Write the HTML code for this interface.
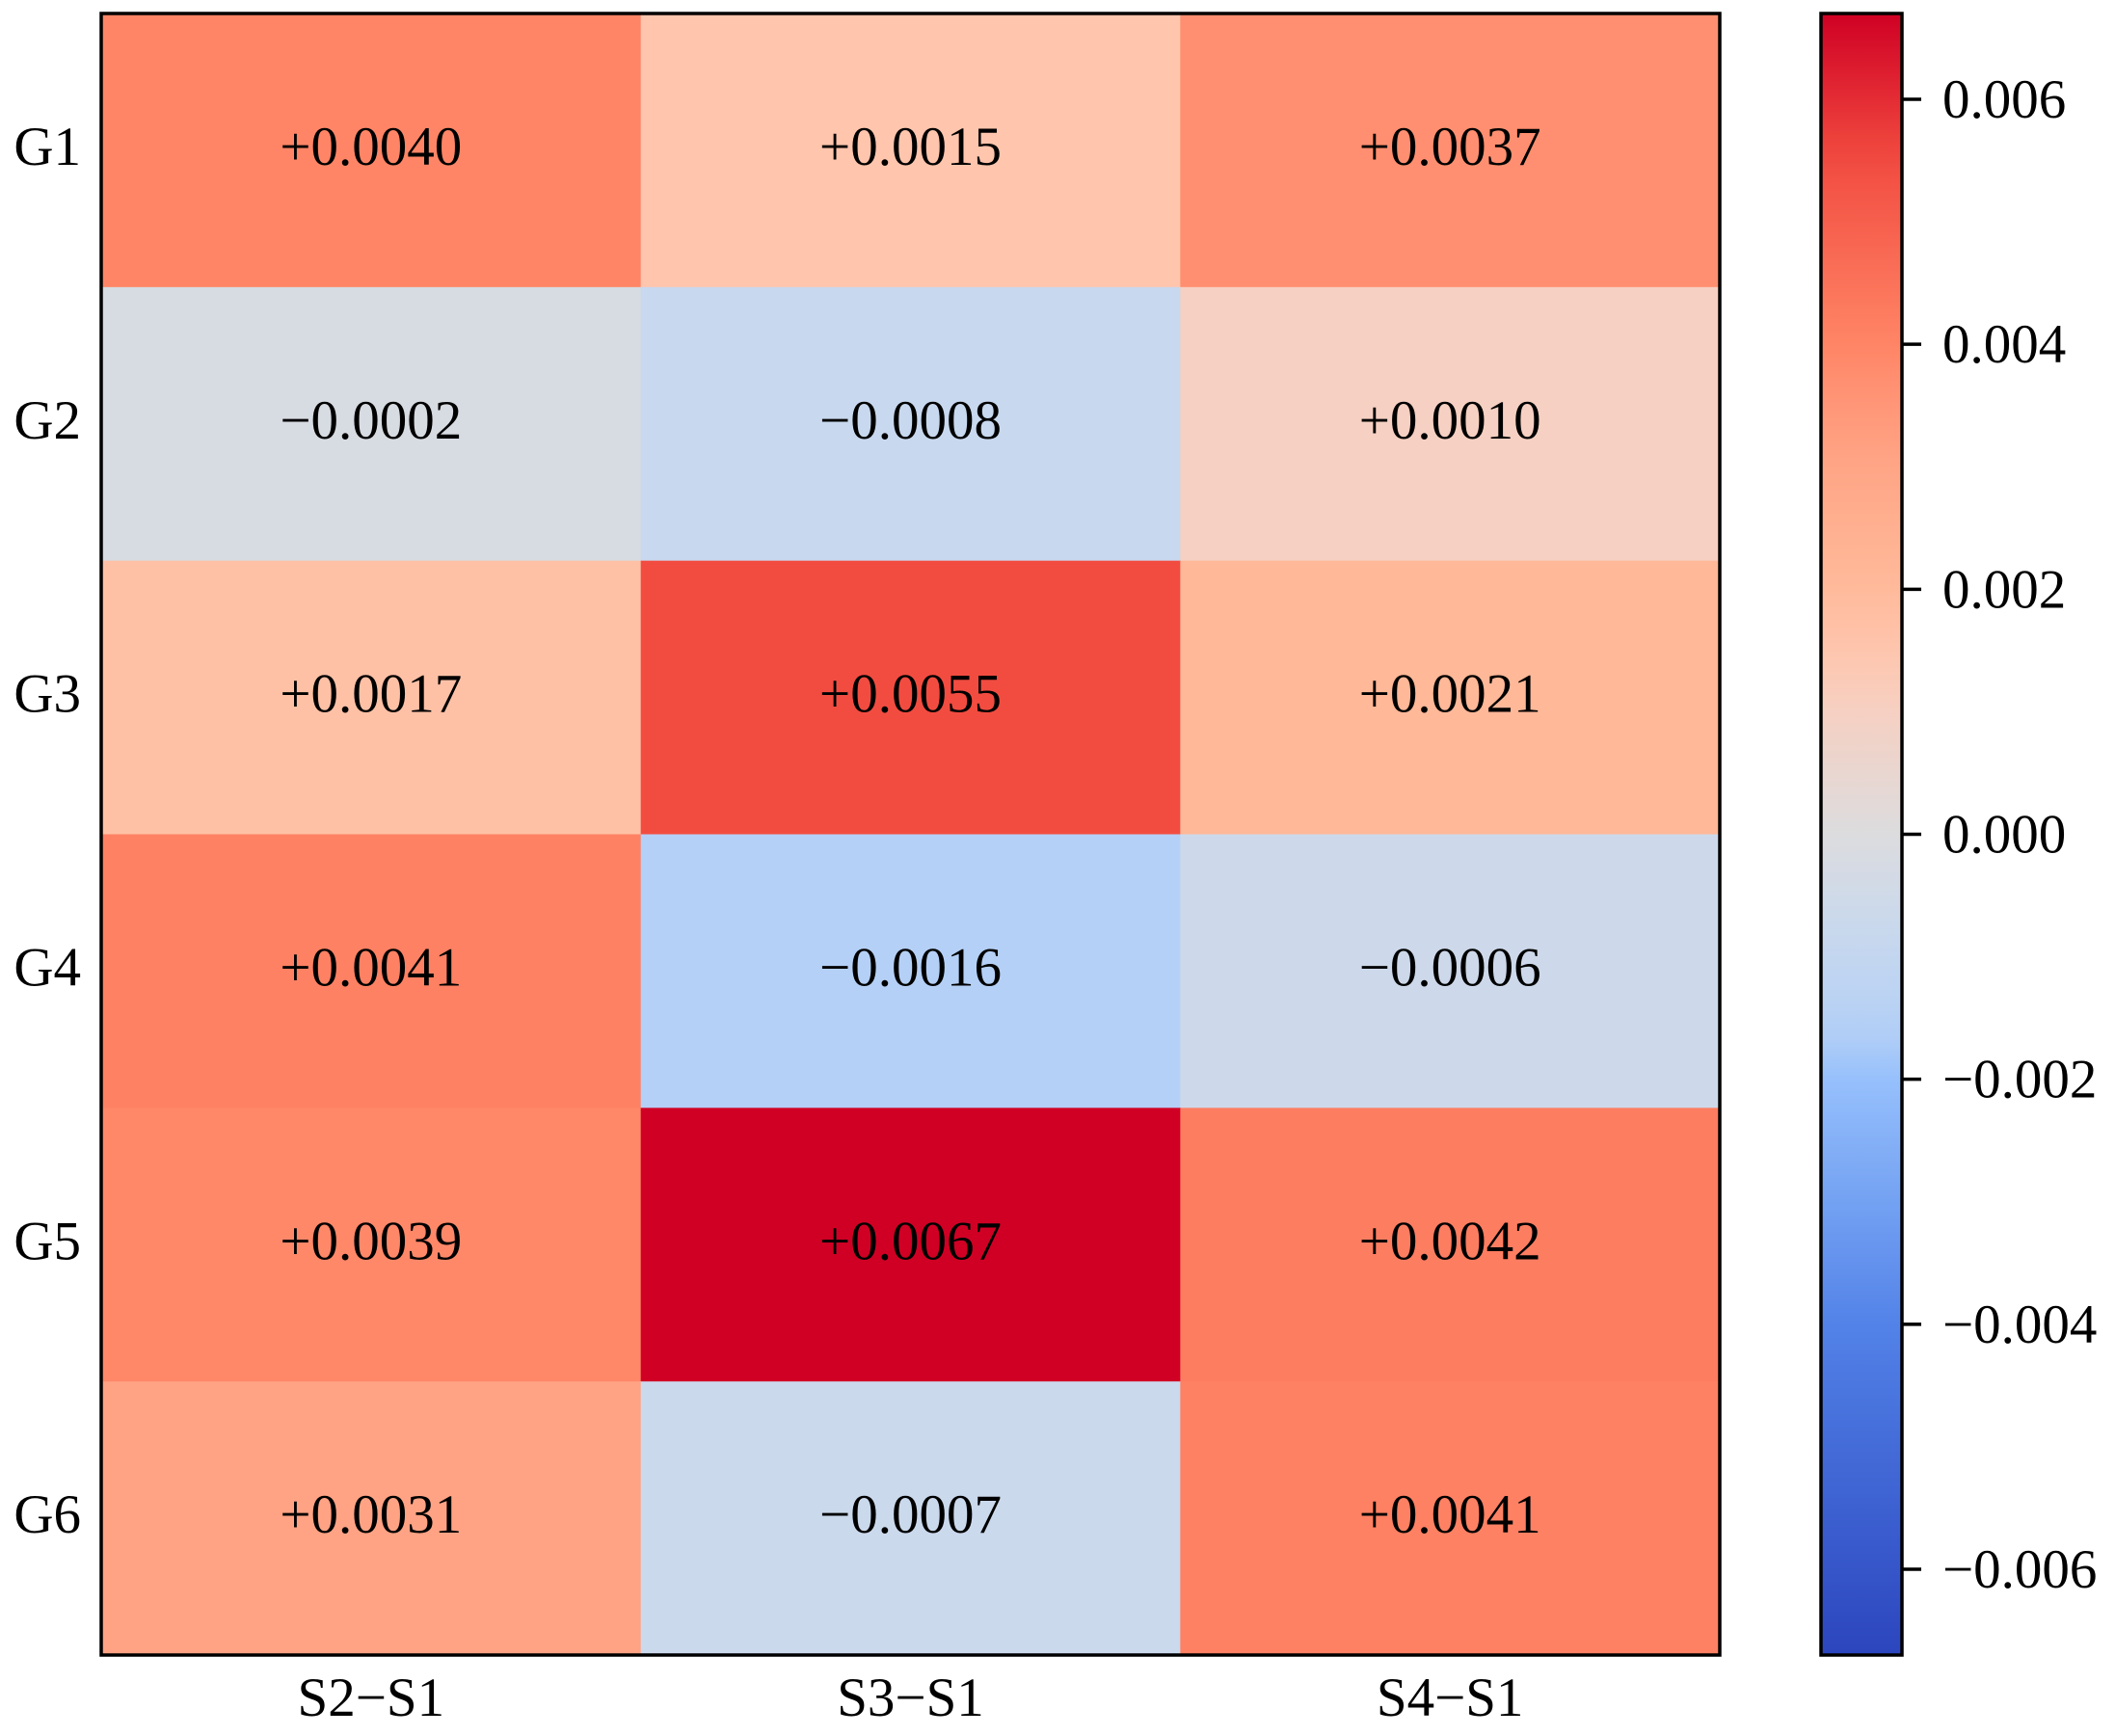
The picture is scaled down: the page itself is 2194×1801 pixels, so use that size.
<!DOCTYPE html>
<html><head><meta charset="utf-8"><style>
html,body{margin:0;padding:0;background:#fff}
svg{display:block}
text{font-family:"Liberation Serif",serif;fill:#000}
</style></head><body>
<svg id="chart" width="2194" height="1801" viewBox="0 0 2194 1801" xmlns="http://www.w3.org/2000/svg">
<defs><linearGradient id="cbgrad" x1="0" y1="1" x2="0" y2="0"></linearGradient></defs>
<g id="cells"></g>
<rect x="105" y="14" width="1679" height="1703" fill="none" stroke="#000" stroke-width="3.5"/>
<g id="ylabels"></g><g id="xlabels"></g>
<rect id="cbar" x="1889" y="14" width="84" height="1703" fill="url(#cbgrad)" stroke="#000" stroke-width="3.5"/>
<g id="cbticks"></g>
</svg>
<script>
const rowLabels = ["G1","G2","G3","G4","G5","G6"];
const colLabels = ["S2\u2212S1","S3\u2212S1","S4\u2212S1"];
const values = [
  [0.0040, 0.0015, 0.0037],
  [-0.0002, -0.0008, 0.0010],
  [0.0017, 0.0055, 0.0021],
  [0.0041, -0.0016, -0.0006],
  [0.0039, 0.0067, 0.0042],
  [0.0031, -0.0007, 0.0041]
];
const cbTicks = [0.006, 0.004, 0.002, 0, -0.002, -0.004, -0.006];
const vmin = -0.0067, vmax = 0.0067;
const stops = [[-0.0067,[44,70,190]],[-0.004,[82,130,232]],[-0.002,[150,192,252]],[-0.0016,[181,208,246]],[-0.0008,[200,216,238]],[0,[220,220,222]],[0.001,[246,208,194]],[0.0015,[255,197,173]],[0.0021,[255,184,152]],[0.0031,[255,163,132]],[0.004,[255,133,102]],[0.0055,[242,76,64]],[0.0067,[208,0,36]]];
function color(v){
  if(v<=stops[0][0]) return `rgb(${stops[0][1]})`;
  for(let i=1;i<stops.length;i++){ if(v<=stops[i][0]){const a=stops[i-1],b=stops[i];const t=(v-a[0])/(b[0]-a[0]);const c=a[1].map((x,k)=>Math.round(x+(b[1][k]-x)*t));return `rgb(${c})`;} }
  return `rgb(${stops[stops.length-1][1]})`;
}
const NS="http://www.w3.org/2000/svg";
const L=105,R=1784,T=14,B=1717;
const cw=(R-L)/colLabels.length, rh=(B-T)/rowLabels.length;
const xPos=j=>L+j*cw, yPos=i=>T+i*rh;
const cbY=v=>T+(vmax-v)/(vmax-vmin)*(B-T);
function mk(tag,attrs,parent){const e=document.createElementNS(NS,tag);for(const k in attrs)e.setAttribute(k,attrs[k]);parent.appendChild(e);return e;}
const cells=document.getElementById('cells');
values.forEach((row,i)=>row.forEach((v,j)=>{
  const r=mk('rect',{x:xPos(j),y:yPos(i),width:cw+0.5,height:rh+0.5,fill:color(v)},cells);
  
  
  const t=mk('text',{x:xPos(j)+cw/2,y:yPos(i)+rh/2+15,'text-anchor':'middle','font-size':57},cells);
  
  
  t.textContent=(v>=0?'+':'\u2212')+Math.abs(v).toFixed(4);
}));
const yl=document.getElementById('ylabels');
rowLabels.forEach((s,i)=>{const t=mk('text',{x:84,y:yPos(i)+rh/2+15,'text-anchor':'end','font-size':57},yl);
  
  
  t.textContent=s;});
const xl=document.getElementById('xlabels');
colLabels.forEach((s,j)=>{const t=mk('text',{x:xPos(j)+cw/2,y:1780,'text-anchor':'middle','font-size':57},xl);
  
  
  t.textContent=s;});
const g=document.getElementById('cbgrad');
for(let k=0;k<=40;k++){const v=vmin+(vmax-vmin)*k/40;mk('stop',{offset:k/40,'stop-color':color(v)},g);}
const cbt=document.getElementById('cbticks');
cbTicks.forEach(v=>{const y=cbY(v);
  const l=mk('line',{x1:1973,x2:1993,y1:y,y2:y,stroke:'#000','stroke-width':3.5},cbt);
  
  
  const t=mk('text',{x:2015,y:y+19,'font-size':57},cbt);
  
  
  t.textContent=(v<0?'\u2212':'')+Math.abs(v).toFixed(3);});
</script>
</body></html>
